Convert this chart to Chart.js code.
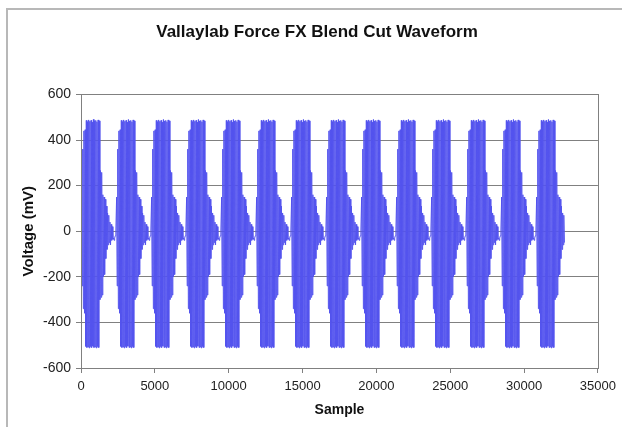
<!doctype html>
<html>
<head>
  <title>Vallaylab Force FX Blend Cut Waveform</title>
  <script src="https://cdn.jsdelivr.net/npm/chart.js@4.4.1/dist/chart.umd.min.js"></script>
  <style>
    html, body { margin: 0; padding: 0; background: #fff; }
    .chart { width: 622px; height: 427px; }
  </style>
</head>
<body>
  <div class="chart">
    <canvas id="myChart"></canvas>
  </div>
  <script>
    // where each burst begins (sample index)
    var burstStarts = [40, 2410, 4780, 7150, 9520, 11890, 14260, 16630, 19000, 21370, 23740, 26110, 28480, 30850];
    // samples between consecutive points of the burst shape
    var shapeStep = 40;
    // one burst, in mV: ramp, full swing, two steps down, then ringing
    var burstShape = [
      150, -240, 360, -340, 440, -360, 445,
      -505, 486, -510, 480, -508, 488, -512, 482, -506, 486, -510, 478,
      -504, 490, -510, 484, -508, 486, -512, 480, -506, 488, -510, 484,
      -300, 266, -290, 258, -280,
      160, -200, 150, -190, 140, -120, 110,
      -80, 80, -60, 70, -50, 40, -60, 30, -40, 20, -35, -30, -40, -30, -20, 0
    ];
    var lastSample = 32767;
    var xTicks = [0, 5000, 10000, 15000, 20000, 25000, 30000, 35000];
    var yTicks = [-600, -400, -200, 0, 200, 400, 600];

    var points = [];
    burstStarts.forEach(function(start) {
      burstShape.forEach(function(v, i) {
        var x = start + i * shapeStep;
        if (x <= lastSample) points.push({x: x, y: v});
      });
    });

    var frame = {
      id: 'frame',
      beforeDraw: function(chart) {
        var ctx = chart.ctx;
        ctx.save();
        ctx.fillStyle = '#b8b8b8';
        ctx.fillRect(6, 8, 2, 419);
        ctx.fillRect(6, 8, 616, 2);
        ctx.restore();
      },
      afterDatasetsDraw: function(chart) {
        var a = chart.chartArea;
        var ctx = chart.ctx;
        ctx.save();
        ctx.strokeStyle = '#808080';
        ctx.lineWidth = 1;
        ctx.strokeRect(Math.round(a.left) + 0.5, Math.round(a.top) + 0.5,
          Math.round(a.right - a.left), Math.round(a.bottom - a.top));
        ctx.restore();
      }
    };

    var plain = function(v) { return String(v); };

    var config = {
      type: 'line',
      data: {
        datasets: [{
          data: points,
          borderColor: 'rgb(84,84,238)',
          borderWidth: 1,
          pointRadius: 0,
          tension: 0,
          fill: false
        }]
      },
      options: {
        responsive: false,
        animation: false,
        layout: {
          padding: {left: 20, right: 8, top: 0, bottom: 0}
        },
        scales: {
          x: {
            type: 'linear',
            min: 0,
            max: 35000,
            afterBuildTicks: function(s) { s.ticks = xTicks.map(function(v) { return {value: v}; }); },
            afterFit: function(s) { s.height = 59; },
            grid: {drawOnChartArea: false, color: '#808080', tickLength: 5},
            border: {color: '#808080'},
            ticks: {color: '#222', font: {family: 'Liberation Sans', size: 13}, padding: 6, maxRotation: 0, callback: plain},
            title: {
              display: true,
              text: 'Sample',
              color: '#111',
              font: {family: 'Liberation Sans', size: 14, weight: 'bold'},
              padding: {top: 4, bottom: 8}
            }
          },
          y: {
            min: -600,
            max: 600,
            afterBuildTicks: function(s) { s.ticks = yTicks.map(function(v) { return {value: v}; }); },
            afterFit: function(s) { s.width = 61; },
            grid: {color: '#808080', tickLength: 5},
            border: {color: '#808080'},
            ticks: {color: '#222', font: {family: 'Liberation Sans', size: 14}, padding: 5, callback: plain},
            title: {
              display: true,
              text: 'Voltage (mV)',
              color: '#111',
              font: {family: 'Liberation Sans', size: 15, weight: 'bold'},
              padding: {top: 0, bottom: 4}
            }
          },
          spacer: {
            position: 'right',
            afterFit: function(s) { s.width = 16; },
            grid: {display: false},
            border: {display: false},
            ticks: {display: false}
          }
        },
        plugins: {
          legend: {display: false},
          tooltip: {enabled: false},
          title: {
            display: true,
            text: 'Vallaylab Force FX Blend Cut Waveform',
            color: '#111',
            font: {family: 'Liberation Sans', size: 17, weight: 'bold'},
            padding: {top: 22, bottom: 52}
          }
        }
      },
      plugins: [frame]
    };

    var canvas = document.getElementById('myChart');
    canvas.width = 622;
    canvas.height = 427;
    window.myChart = new Chart(canvas.getContext('2d'), config);
  </script>
</body>
</html>
